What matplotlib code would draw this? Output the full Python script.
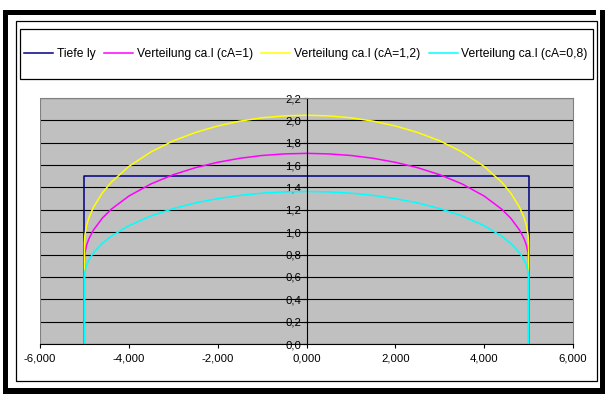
import matplotlib
matplotlib.use("Agg")
import matplotlib.pyplot as plt
from matplotlib.patches import Rectangle
from matplotlib.ticker import FuncFormatter, MultipleLocator

plt.rcParams['font.family'] = ['Liberation Sans', 'DejaVu Sans']

# spanwise position y (m) and chord / lift distribution values
span_pos = [-5.0, -5.0, -4.99, -4.95, -4.9, -4.8, -4.6, -4.4, -4.0, -3.5, -3.0,
            -2.5, -2.0, -1.5, -1.0, -0.5, 0.0, 0.5, 1.0, 1.5, 2.0, 2.5, 3.0,
            3.5, 4.0, 4.4, 4.6, 4.8, 4.9, 4.95, 4.99, 5.0, 5.0]
ca_l_10 = [0.0, 0.750, 0.810, 0.885, 0.940, 1.017, 1.124, 1.204, 1.323, 1.432, 1.514,
           1.577, 1.625, 1.661, 1.686, 1.700, 1.705, 1.700, 1.686, 1.661, 1.625, 1.577, 1.514,
           1.432, 1.323, 1.204, 1.124, 1.017, 0.940, 0.885, 0.810, 0.750, 0.0]
ca_l_12 = [0.0, 0.900, 0.972, 1.062, 1.128, 1.220, 1.349, 1.445, 1.588, 1.718, 1.817,
           1.892, 1.950, 1.993, 2.023, 2.040, 2.046, 2.040, 2.023, 1.993, 1.950, 1.892, 1.817,
           1.718, 1.588, 1.445, 1.349, 1.220, 1.128, 1.062, 0.972, 0.900, 0.0]
ca_l_08 = [0.0, 0.600, 0.648, 0.708, 0.752, 0.814, 0.899, 0.963, 1.058, 1.146, 1.211,
           1.262, 1.300, 1.329, 1.349, 1.360, 1.364, 1.360, 1.349, 1.329, 1.300, 1.262, 1.211,
           1.146, 1.058, 0.963, 0.899, 0.814, 0.752, 0.708, 0.648, 0.600, 0.0]
tiefe_pos = [-5.0, -5.0, 5.0, 5.0]
tiefe_l = [0.0, 1.5, 1.5, 0.0]

labels = ["Tiefe ly", "Verteilung ca.l (cA=1)",
          "Verteilung ca.l (cA=1,2)", "Verteilung ca.l (cA=0,8)"]
colors = ["#000080", "#FF00FF", "#FFFF00", "#00FFFF"]

W, H = 605, 394
fig = plt.figure(figsize=(W / 100, H / 100), dpi=100)


def px_rect(x0, y0, x1, y1, **kw):
    """Rectangle in pixel coords measured from top-left"""
    r = Rectangle((x0 / W, 1 - y1 / H), (x1 - x0) / W, (y1 - y0) / H,
                  transform=fig.transFigure, **kw)
    fig.add_artist(r)


# black shadow bands and chart frame
px_rect(3, 10, 8, 394, facecolor='black', edgecolor='none')
px_rect(3, 10, 596, 15, facecolor='black', edgecolor='none')
px_rect(600, 10, 605, 394, facecolor='black', edgecolor='none')
px_rect(3, 388, 605, 394, facecolor='black', edgecolor='none')
px_rect(16, 21, 597, 381, facecolor='none', edgecolor='black', linewidth=0.9)
px_rect(20, 29, 593, 79, facecolor='none', edgecolor='black', linewidth=0.9)

ax = fig.add_axes([40 / W, 1 - 344 / H, 533 / W, 246 / H])
ax.set_facecolor('#C0C0C0')

lines = []
lines += ax.plot(tiefe_pos, tiefe_l, color=colors[0], lw=1.1)
lines += ax.plot(span_pos, ca_l_10, color=colors[1], lw=1.1)
lines += ax.plot(span_pos, ca_l_12, color=colors[2], lw=1.1)
lines += ax.plot(span_pos, ca_l_08, color=colors[3], lw=1.1)

ax.set_xlim(-6, 6)
ax.set_ylim(0, 2.2)
ax.xaxis.set_major_locator(MultipleLocator(2))
ax.yaxis.set_major_locator(MultipleLocator(0.2))
ax.xaxis.set_major_formatter(FuncFormatter(lambda v, p: f"{v:.3f}".replace('.', ',').replace('-0,000', '0,000')))
ax.yaxis.set_major_formatter(FuncFormatter(lambda v, p: f"{v:.1f}".replace('.', ',')))
ax.yaxis.grid(True, color='black', linewidth=0.8)
ax.set_axisbelow(True)

for s in ['top', 'right']:
    ax.spines[s].set_color('#808080')
    ax.spines[s].set_linewidth(0.8)
ax.spines['left'].set_position(('data', 0))
ax.spines['left'].set_color('black')
ax.spines['left'].set_linewidth(0.8)
ax.spines['bottom'].set_color('black')
ax.spines['bottom'].set_linewidth(0.8)
ax.axvline(-6, color='#808080', lw=0.8)

ax.tick_params(axis='both', direction='out', length=3, width=0.8,
               labelsize=8.2, colors='black', pad=2)
ax.tick_params(axis='y', pad=1)
ax.tick_params(axis='x', pad=4)

fig.legend(lines, labels, loc='center', ncol=4,
           bbox_to_anchor=(306 / W, 1 - 54 / H), frameon=False,
           fontsize=8.7, handlelength=2.4, handletextpad=0.3,
           columnspacing=0.7)

fig.savefig("out.png", dpi=100)
